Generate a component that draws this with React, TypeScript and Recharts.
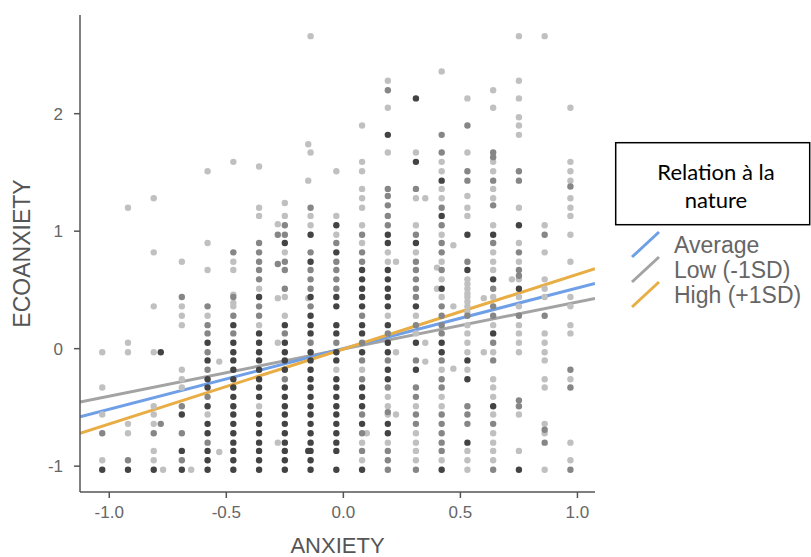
import React from 'react';
import { ComposedChart, Scatter, Line, XAxis, YAxis, Legend } from 'recharts';

// x positions of the ANXIETY columns (the scores are discrete)
const columnX = [
  -1.03, -0.92, -0.81, -0.69, -0.58, -0.47, -0.36, -0.25, -0.14, -0.03,
  0.08, 0.19, 0.31, 0.42, 0.53, 0.64, 0.75, 0.86, 0.97,
];

// ECOANXIETY values in each column: [y, shade] (1 = single, 2 = a few overlapping, 3 = many)
const columnDots: [number, number][][] = [
  [[-0.03, 1], [-0.33, 1], [-0.56, 1], [-0.72, 2], [-0.95, 1], [-1.03, 3]],
  [[1.2, 1], [0.05, 1], [-0.03, 1], [-0.64, 1], [-0.72, 1], [-0.95, 2], [-1.03, 3]],
  [[1.28, 1], [0.82, 1], [0.36, 1], [-0.03, 1], [-0.49, 1], [-0.56, 1], [-0.64, 1], [-0.72, 2], [-0.87, 1], [-0.95, 1], [-1.03, 3]],
  [[0.74, 1], [0.44, 2], [0.36, 1], [0.28, 1], [0.2, 1], [-0.18, 1], [-0.26, 1], [-0.33, 1], [-0.49, 2], [-0.56, 3], [-0.72, 2], [-0.87, 3], [-0.95, 2], [-1.03, 3]],
  [[1.51, 1], [0.9, 1], [0.67, 1], [0.36, 2], [0.28, 1], [0.2, 2], [0.13, 2], [0.05, 3], [-0.03, 2], [-0.1, 3], [-0.18, 2], [-0.26, 3], [-0.33, 3], [-0.41, 2], [-0.49, 3], [-0.56, 1], [-0.64, 3], [-0.72, 3], [-0.8, 2], [-0.87, 3], [-0.95, 3], [-1.03, 3]],
  [[1.59, 1], [0.82, 2], [0.74, 1], [0.67, 1], [0.46, 1], [0.44, 2], [0.39, 1], [0.36, 1], [0.28, 2], [0.2, 3], [0.13, 2], [0.05, 3], [-0.03, 3], [-0.1, 3], [-0.18, 3], [-0.26, 3], [-0.33, 3], [-0.41, 3], [-0.49, 3], [-0.56, 3], [-0.64, 3], [-0.72, 3], [-0.8, 3], [-0.87, 3], [-0.95, 3], [-1.03, 3]],
  [[1.55, 1], [1.2, 1], [1.13, 1], [0.9, 2], [0.82, 2], [0.74, 2], [0.67, 2], [0.59, 2], [0.51, 1], [0.44, 3], [0.36, 2], [0.28, 2], [0.2, 1], [0.13, 3], [0.05, 3], [-0.03, 3], [-0.1, 3], [-0.18, 3], [-0.26, 3], [-0.33, 3], [-0.41, 3], [-0.49, 1], [-0.56, 3], [-0.64, 3], [-0.72, 3], [-0.8, 3], [-0.87, 3], [-0.95, 3], [-1.03, 3]],
  [[1.24, 1], [1.13, 1], [1.05, 2], [0.97, 2], [0.9, 3], [0.82, 1], [0.74, 2], [0.67, 2], [0.51, 2], [0.44, 1], [0.28, 1], [0.2, 3], [0.13, 2], [0.05, 3], [-0.03, 3], [-0.1, 3], [-0.18, 3], [-0.26, 2], [-0.33, 3], [-0.41, 3], [-0.49, 3], [-0.56, 3], [-0.64, 3], [-0.72, 3], [-0.8, 3], [-0.87, 3], [-0.95, 3], [-1.03, 3]],
  [[2.66, 1], [1.67, 1], [1.2, 2], [1.13, 1], [1.05, 1], [0.97, 3], [0.82, 2], [0.74, 3], [0.67, 2], [0.59, 2], [0.51, 2], [0.44, 3], [0.36, 2], [0.28, 3], [0.2, 3], [0.13, 3], [0.05, 2], [-0.03, 3], [-0.1, 3], [-0.18, 3], [-0.26, 3], [-0.33, 3], [-0.41, 3], [-0.49, 3], [-0.56, 3], [-0.64, 3], [-0.72, 3], [-0.8, 3], [-0.87, 3], [-0.95, 3], [-1.03, 3]],
  [[1.51, 1], [1.13, 1], [1.05, 3], [0.97, 1], [0.9, 2], [0.82, 3], [0.74, 2], [0.67, 2], [0.59, 2], [0.51, 2], [0.44, 3], [0.36, 3], [0.2, 3], [0.13, 3], [0.05, 2], [-0.03, 3], [-0.1, 3], [-0.18, 1], [-0.26, 3], [-0.33, 3], [-0.41, 3], [-0.49, 3], [-0.56, 3], [-0.64, 3], [-0.72, 3], [-0.8, 3], [-0.87, 3], [-1.03, 3]],
  [[1.9, 1], [1.59, 1], [1.51, 1], [1.36, 1], [1.28, 1], [1.2, 1], [1.05, 1], [0.97, 2], [0.9, 1], [0.82, 2], [0.74, 2], [0.67, 3], [0.59, 3], [0.51, 3], [0.44, 3], [0.36, 3], [0.28, 2], [0.2, 3], [0.13, 3], [0.05, 2], [-0.03, 3], [-0.1, 2], [-0.18, 1], [-0.26, 2], [-0.33, 3], [-0.41, 3], [-0.49, 3], [-0.56, 2], [-0.64, 3], [-0.72, 2], [-0.8, 1], [-0.87, 2], [-0.95, 1], [-1.03, 3]],
  [[2.28, 1], [2.2, 2], [2.05, 1], [1.82, 3], [1.67, 1], [1.36, 2], [1.3, 2], [1.22, 2], [1.13, 2], [1.05, 2], [0.97, 3], [0.9, 3], [0.82, 1], [0.74, 1], [0.67, 3], [0.59, 3], [0.51, 3], [0.44, 3], [0.36, 3], [0.28, 1], [0.2, 3], [0.13, 2], [0.05, 3], [-0.03, 3], [-0.1, 2], [-0.18, 3], [-0.26, 3], [-0.33, 2], [-0.41, 1], [-0.49, 1], [-0.54, 2], [-0.56, 1], [-0.64, 3], [-0.72, 3], [-0.8, 1], [-0.87, 2], [-0.95, 2], [-1.03, 2]],
  [[2.13, 3], [1.67, 1], [1.59, 3], [1.36, 2], [1.28, 1], [1.05, 1], [0.97, 2], [0.9, 3], [0.82, 1], [0.74, 2], [0.67, 2], [0.59, 2], [0.51, 2], [0.44, 2], [0.36, 3], [0.28, 1], [0.2, 2], [0.13, 1], [0.05, 3], [-0.1, 2], [-0.18, 3], [-0.33, 2], [-0.41, 2], [-0.49, 1], [-0.56, 2], [-0.64, 2], [-0.72, 1], [-0.8, 1], [-0.87, 1], [-0.95, 1], [-1.03, 2]],
  [[2.36, 1], [1.82, 2], [1.67, 2], [1.59, 1], [1.51, 1], [1.43, 3], [1.36, 1], [1.28, 1], [1.2, 2], [1.13, 3], [1.05, 2], [0.97, 1], [0.9, 2], [0.82, 2], [0.74, 1], [0.67, 2], [0.59, 1], [0.51, 3], [0.44, 1], [0.36, 2], [0.28, 2], [0.2, 2], [0.13, 2], [0.05, 3], [-0.03, 3], [-0.1, 2], [-0.18, 1], [-0.26, 2], [-0.33, 2], [-0.41, 1], [-0.49, 1], [-0.56, 2], [-0.64, 2], [-0.72, 2], [-0.8, 2], [-0.87, 2], [-0.95, 1], [-1.03, 3]],
  [[2.13, 1], [1.9, 2], [1.67, 1], [1.51, 2], [1.43, 2], [1.3, 1], [1.2, 1], [1.13, 1], [0.97, 3], [0.74, 2], [0.67, 3], [0.59, 1], [0.55, 1], [0.51, 1], [0.47, 1], [0.44, 1], [0.4, 1], [0.36, 1], [0.31, 1], [0.28, 2], [0.2, 1], [0.13, 1], [0.05, 1], [-0.03, 1], [-0.1, 3], [-0.18, 1], [-0.26, 3], [-0.49, 2], [-0.56, 2], [-0.64, 2], [-0.8, 3], [-0.87, 1], [-0.95, 1], [-1.03, 1]],
  [[2.2, 1], [2.05, 1], [1.67, 2], [1.63, 2], [1.59, 1], [1.51, 1], [1.43, 2], [1.36, 1], [1.28, 1], [1.22, 2], [1.05, 1], [0.97, 3], [0.9, 2], [0.82, 1], [0.74, 1], [0.67, 1], [0.59, 3], [0.51, 2], [0.44, 1], [0.36, 2], [0.28, 2], [0.2, 1], [0.13, 3], [0.05, 2], [-0.03, 1], [-0.1, 2], [-0.26, 1], [-0.33, 1], [-0.41, 1], [-0.49, 3], [-0.56, 1], [-0.64, 2], [-0.72, 1], [-0.8, 1], [-0.87, 1], [-0.95, 1], [-1.03, 2]],
  [[2.66, 1], [2.28, 1], [2.13, 1], [1.97, 1], [1.9, 1], [1.82, 1], [1.51, 2], [1.43, 2], [1.2, 1], [1.05, 3], [0.9, 1], [0.82, 2], [0.74, 1], [0.67, 2], [0.62, 2], [0.59, 1], [0.51, 3], [0.44, 1], [0.36, 1], [0.28, 2], [0.2, 1], [0.13, 1], [0.05, 1], [-0.03, 1], [-0.44, 2], [-0.49, 2], [-0.56, 1], [-0.87, 1], [-1.03, 3]],
  [[2.66, 1], [1.05, 1], [0.97, 2], [0.82, 1], [0.59, 1], [0.51, 1], [0.44, 1], [0.28, 2], [0.13, 1], [0.05, 1], [-0.03, 1], [-0.1, 1], [-0.26, 1], [-0.33, 1], [-0.64, 1], [-0.69, 2], [-0.72, 1], [-0.8, 2], [-1.03, 1]],
  [[2.05, 1], [1.59, 1], [1.51, 1], [1.43, 1], [1.38, 2], [1.28, 1], [1.2, 1], [1.13, 1], [0.97, 1], [0.74, 1], [0.44, 1], [0.36, 1], [0.2, 1], [0.13, 1], [-0.18, 2], [-0.26, 1], [-0.33, 2], [-0.8, 1], [-0.95, 1], [-1.03, 2]],
];

// participants whose score falls between the columns: [x, y, shade]
const looseDots: [number, number, number][] = [
  [-0.78, -0.03, 3], [-0.78, -0.64, 2], [-0.77, -1.03, 1], [-0.65, -1.03, 1],
  [-0.53, -0.11, 1], [-0.53, -0.88, 1],
  [-0.28, 1.06, 1], [-0.28, 0.97, 2], [-0.28, 0.72, 2], [-0.28, 0.43, 1], [-0.28, 0.05, 1], [-0.28, -0.8, 1],
  [-0.15, 1.74, 1], [-0.15, 1.43, 1], [-0.15, 0.43, 1], [-0.15, -0.87, 3],
  [0.1, -0.72, 1],
  [0.225, 0.74, 1], [0.225, -0.03, 1], [0.225, -0.56, 1],
  [0.35, 1.28, 1], [0.35, 0.05, 1], [0.35, -0.11, 1],
  [0.47, 0.88, 1], [0.4, 0.69, 1], [0.4, 0.51, 1], [0.47, 0.36, 1], [0.47, -0.17, 1],
  [0.6, 0.43, 1], [0.6, -0.03, 1],
  [0.72, 0.59, 1],
];

// simple slopes at the ends of the x range
const slopeX = [-1.125, 1.075];
const slopeAverage = [-0.58, 0.556];
const slopeLow = [-0.455, 0.428];
const slopeHigh = [-0.72, 0.68];

const legendTitle = ['Relation à la', 'nature'];
const legendLabels = ['Average', 'Low (-1SD)', 'High (+1SD)'];
const legendColors = ['#6f9fe6', '#a3a3a3', '#e8ae45'];

const xTicks = [-1, -0.5, 0, 0.5, 1];
const yTicks = [-1, 0, 1, 2];

const shadeColors = ['#c0c0c0', '#868686', '#434343'];

const allDots = columnDots
  .flatMap((col, i) => col.map(([y, s]) => ({ x: columnX[i], y, s })))
  .concat(looseDots.map(([x, y, s]) => ({ x, y, s })));

const dotsByShade = [1, 2, 3].map((s) => allDots.filter((d) => d.s === s));

const toLine = (ys: number[]) => slopeX.map((x, i) => ({ x, y: ys[i] }));
const lines = [
  { name: 'Low (-1SD)', data: toLine(slopeLow), color: legendColors[1] },
  { name: 'Average', data: toLine(slopeAverage), color: legendColors[0] },
  { name: 'High (+1SD)', data: toLine(slopeHigh), color: legendColors[2] },
];

const axisColor = '#555';
const font = '"Liberation Sans", Arial, sans-serif';

const LegendBox = () => (
  <svg width={197} height={175} style={{ display: 'block' }}>
    <rect x={1.7} y={2.7} width={194} height={82} fill="#fff" stroke="#000" strokeWidth={1.5} />
    <text x={102} y={40} textAnchor="middle" fontSize={22} fontFamily="Lato, sans-serif" fill="#000">
      {legendTitle[0]}
    </text>
    <text x={102} y={68} textAnchor="middle" fontSize={22} fontFamily="Lato, sans-serif" fill="#000">
      {legendTitle[1]}
    </text>
    {legendLabels.map((label, i) => (
      <g key={label}>
        <line
          x1={18}
          y1={117 + i * 25}
          x2={45}
          y2={92 + i * 25}
          stroke={legendColors[i]}
          strokeWidth={3}
        />
        <text x={60} y={113 + i * 25} fontSize={23} fontFamily={font} fill="#666">
          {label}
        </text>
      </g>
    ))}
  </svg>
);

const XTitle = (props: any) => {
  const vb = props.viewBox || { x: 80, y: 492, width: 515, height: 40 };
  return (
    <text x={vb.x + vb.width / 2} y={vb.y + vb.height + 21} textAnchor="middle" fontSize={22} fontFamily={font} fill="#555">
      ANXIETY
    </text>
  );
};

const YTitle = (props: any) => {
  const vb = props.viewBox || { x: 0, y: 15, width: 80, height: 477 };
  const cx = vb.x + 30;
  const cy = vb.y + vb.height / 2;
  return (
    <text x={cx} y={cy} transform={`rotate(-90 ${cx} ${cy})`} textAnchor="middle" fontSize={23} fontFamily={font} fill="#555">
      ECOANXIETY
    </text>
  );
};

export default function App() {
  return (
    <div style={{ position: 'absolute', left: 0, top: 0, width: 811, height: 557, background: '#fff' }}>
      <ComposedChart width={811} height={557} margin={{ top: 15, right: 216, bottom: 25, left: 0 }}>
        <XAxis
          type="number"
          dataKey="x"
          domain={[-1.125, 1.075]}
          ticks={xTicks}
          allowDataOverflow
          tickFormatter={(v: number) => v.toFixed(1)}
          height={40}
          tickSize={6}
          tickMargin={8}
          axisLine={{ stroke: axisColor, strokeWidth: 1.5 }}
          tickLine={{ stroke: axisColor, strokeWidth: 1.5 }}
          tick={{ fill: '#666', fontSize: 17, fontFamily: font }}
          label={XTitle}
        />
        <YAxis
          type="number"
          dataKey="y"
          domain={[-1.22, 2.84]}
          ticks={yTicks}
          allowDataOverflow
          width={80}
          tickSize={6}
          tickMargin={11}
          axisLine={{ stroke: axisColor, strokeWidth: 1.5 }}
          tickLine={{ stroke: axisColor, strokeWidth: 1.5 }}
          tick={{ fill: '#666', fontSize: 17, fontFamily: font }}
          label={YTitle}
        />
        {dotsByShade.map((dots, i) => (
          <Scatter
            key={`shade-${i}`}
            data={dots}
            isAnimationActive={false}
            shape={(p: any) => <circle cx={p.cx} cy={p.cy} r={3.2} fill={shadeColors[i]} />}
          />
        ))}
        {lines.map((l) => (
          <Line
            key={l.name}
            data={l.data}
            dataKey="y"
            type="linear"
            stroke={l.color}
            strokeWidth={3}
            dot={false}
            activeDot={false}
            isAnimationActive={false}
          />
        ))}
        <Legend
          layout="horizontal"
          verticalAlign="middle"
          align="center"
          content={LegendBox}
          wrapperStyle={{ position: 'absolute', left: 614, top: 140, width: 197, height: 175 }}
        />
      </ComposedChart>
    </div>
  );
}
